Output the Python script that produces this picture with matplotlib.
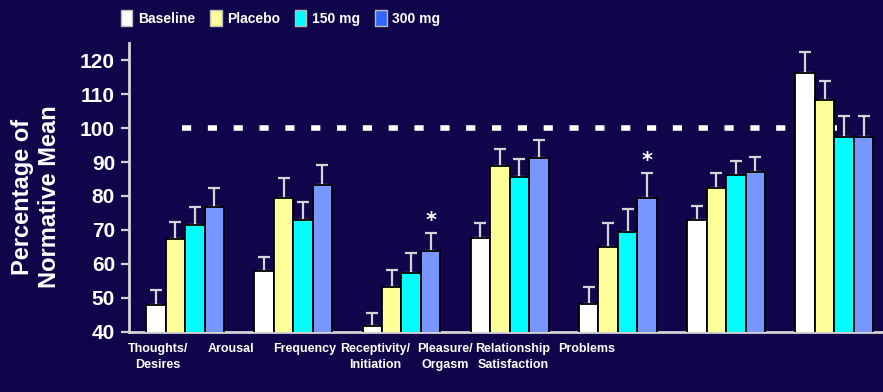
import matplotlib
matplotlib.use("Agg")
import matplotlib.pyplot as plt
from matplotlib.patches import Patch
import numpy as np

# Domain scores as percentage of the normative mean
categories = ["Thoughts/\nDesires", "Arousal", "Frequency", "Receptivity/\nInitiation",
              "Pleasure/\nOrgasm", "Relationship\nSatisfaction", "Problems"]
series_names = ["Baseline", "Placebo", "150 mg", "300 mg"]

baseline = [47.8, 57.8, 41.6, 67.6, 48.1, 72.8, 116.3]
baseline_err = [4.4, 4.3, 3.8, 4.3, 5.1, 4.2, 6.1]
placebo = [67.2, 79.5, 53.0, 88.8, 64.8, 82.2, 108.2]
placebo_err = [5.2, 5.9, 5.1, 5.0, 7.1, 4.5, 5.8]
mg150 = [71.4, 72.8, 57.2, 85.6, 69.4, 86.1, 97.4]
mg150_err = [5.4, 5.3, 5.9, 5.3, 6.8, 4.3, 6.2]
mg300 = [76.6, 83.2, 63.8, 91.2, 79.4, 87.0, 97.4]
mg300_err = [5.8, 5.8, 5.2, 5.4, 7.3, 4.4, 6.2]

significant = ["Frequency", "Pleasure/\nOrgasm"]   # marked on the 300 mg bar
normative_mean = 100
y_ticks = [40, 50, 60, 70, 80, 90, 100, 110, 120]

# Styling
bg = "#10054a"
bar_colors = ["#ffffff", "#ffff99", "#00ffff", "#7896ff"]
legend_colors = ["#ffffff", "#ffff99", "#00ffff", "#3366ff"]
axis_col = "#d4d4d4"
sans = ["Liberation Sans", "DejaVu Sans"]
label_pos = [-0.25, 0.42, 1.11, 1.76, 2.40, 3.03, 3.71]

fig = plt.figure(figsize=(8.83, 3.92), dpi=100, facecolor=bg)
ax = fig.add_axes([0.1461, 0.1543, 0.8539, 0.736])
ax.set_facecolor(bg)

x = np.arange(len(categories))
width = 0.18
offsets = np.array([-1.5, -0.5, 0.5, 1.5]) * width
values = [baseline, placebo, mg150, mg300]
errors = [baseline_err, placebo_err, mg150_err, mg300_err]

for vals, errs, col, off in zip(values, errors, bar_colors, offsets):
    ax.bar(x + off, vals, width, color=col, edgecolor="black", linewidth=1.3, zorder=3)
    ax.errorbar(x + off, vals, yerr=[np.zeros(len(errs)), errs], fmt="none",
                ecolor=axis_col, elinewidth=1.6, capsize=4, capthick=1.6, zorder=2)

# Significance markers above the 300 mg bars
for cat in significant:
    i = categories.index(cat)
    top = mg300[i] + mg300_err[i]
    ax.text(x[i] + offsets[3], top + 3.5, "*", color="white", fontsize=15,
            fontweight="bold", ha="center", va="center", zorder=4)

# Normative mean reference line
ax.plot([-0.03, 6.03], [normative_mean, normative_mean], color="white", lw=4,
        linestyle=(0, (1.65, 3.0)), zorder=1)

ax.set_xlim(-0.518, 6.45)
ax.set_ylim(40, 125.1)
ax.set_yticks(y_ticks)
ax.set_yticklabels([str(t) for t in y_ticks], fontsize=15, fontweight="bold",
                   color="white", family=sans)
ax.tick_params(axis="y", colors=axis_col, length=6, width=1.6, pad=4, labelcolor="white")

ax.set_xticks(label_pos)
ax.set_xticklabels(categories, fontsize=9, fontweight="bold", color="white",
                   family=sans, linespacing=1.5)
ax.tick_params(axis="x", length=0, pad=8, labelcolor="white")

for s in ["top", "right"]:
    ax.spines[s].set_visible(False)
for s in ["left", "bottom"]:
    ax.spines[s].set_color(axis_col)
    ax.spines[s].set_linewidth(2)

fig.text(36 / 883, 1 - 197 / 392, "Percentage of\nNormative Mean", rotation=90,
         ha="center", va="center", fontsize=17, fontweight="bold", color="white",
         family=sans, linespacing=1.2)

handles = [Patch(facecolor=c, edgecolor="#bbbbbb", linewidth=1) for c in legend_colors]
leg = fig.legend(handles, series_names, loc="center", bbox_to_anchor=(0.318, 0.954),
                 ncol=4, frameon=False, handlelength=0.8, handleheight=1.3,
                 handletextpad=0.4, columnspacing=1.1,
                 prop={"family": sans, "weight": "bold", "size": 10})
for t in leg.get_texts():
    t.set_color("white")

fig.savefig("out.png", dpi=100, facecolor=bg)
